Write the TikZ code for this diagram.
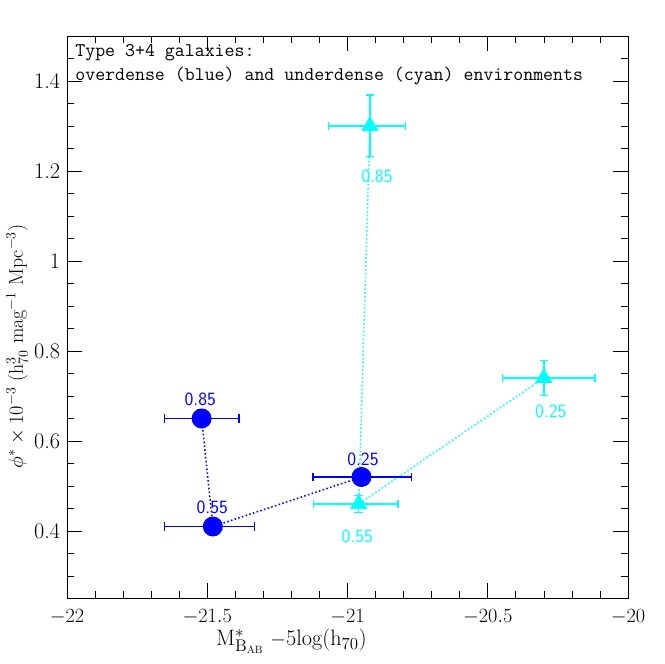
\documentclass[tikz,border=0pt]{standalone}
\usetikzlibrary{arrows.meta,shapes.geometric,backgrounds}
\definecolor{cy}{RGB}{0,255,255}
\definecolor{bl}{RGB}{0,0,255}
\begin{document}
\begin{tikzpicture}
\useasboundingbox (0,0) rectangle (19.92,19.92);
\tikzset{
 ticklab/.style={font=\fontsize{19}{22}\selectfont},
 dlab/.style={font=\fontsize{16}{19}\selectfont\sffamily},
 circ/.style={circle,fill=bl,inner sep=0pt,minimum size=0.6cm},
 tri/.style={regular polygon,regular polygon sides=3,fill=cy,inner sep=0pt,minimum size=0.6cm},
 ebar/.style={line width=1.2pt,{Bar[width=0.26cm]}-{Bar[width=0.26cm]}},
 conn/.style={line width=1.3pt,dotted}
}
\begin{scope}[shift={(2.01,-1.41)},x=8.415cm,y=13.5cm]
 \draw[line width=0.6pt] (0,0.25) rectangle (2,1.5);
 \foreach \i in {1,...,19} {
  \draw[line width=0.6pt] (\i/10,0.25) -- ++(0,0.21cm);
  \draw[line width=0.6pt] (\i/10,1.5) -- ++(0,-0.21cm);}
 \foreach \i in {0.5,1,1.5} {
  \draw[line width=0.6pt] (\i,0.25) -- ++(0,0.45cm);
  \draw[line width=0.6pt] (\i,1.5) -- ++(0,-0.45cm);}
 \foreach \j in {0.3,0.35,...,1.46} {
  \draw[line width=0.6pt] (0,\j) -- ++(0.21cm,0);
  \draw[line width=0.6pt] (2,\j) -- ++(-0.21cm,0);}
 \foreach \j in {0.4,0.6,0.8,1.0,1.2,1.4} {
  \draw[line width=0.6pt] (0,\j) -- ++(0.45cm,0);
  \draw[line width=0.6pt] (2,\j) -- ++(-0.45cm,0);}
 \node[ticklab,below] (xl1) at (0,0.235) {$-22$};
 \node[ticklab,below] (xl2) at (0.5,0.235) {$-21.5$};
 \node[ticklab,below] (xl3) at (1,0.235) {$-21$};
 \node[ticklab,below] (xl4) at (1.5,0.235) {$-20.5$};
 \node[ticklab,below] (xl5) at (2,0.235) {$-20$};
 \node[ticklab,left] (yl1) at (-0.01,0.4) {0.4};
 \node[ticklab,left] (yl2) at (-0.01,0.6) {0.6};
 \node[ticklab,left] (yl3) at (-0.01,0.8) {0.8};
 \node[ticklab,left] (yl4) at (-0.01,1.0) {1};
 \node[ticklab,left] (yl5) at (-0.01,1.2) {1.2};
 \node[ticklab,left] (yl6) at (-0.01,1.4) {1.4};
 \node[ticklab] (xt) at (0.8,0.155) {M$^*_{\mathrm{B}_{\scriptscriptstyle\mathrm{AB}}}$ $-$5log(h$_{70}$)};
 \node[font=\fontsize{17}{20}\selectfont,rotate=90] (yt) at (-0.178,0.81) {$\phi^*\times10^{-3}$ (h$^3_{70}$ mag$^{-1}$ Mpc$^{-3}$)};
 \node[font=\fontsize{16.5}{20}\selectfont\ttfamily,align=left,anchor=north west] (leg) at (0.015,1.49) {Type 3+4 galaxies:\\overdense (blue) and underdense (cyan) environments};
 \coordinate (b1) at (0.48,0.65);
 \coordinate (b2) at (0.52,0.41);
 \coordinate (b3) at (1.05,0.52);
 \coordinate (c1) at (1.08,1.30);
 \coordinate (c2) at (1.04,0.46);
 \coordinate (c3) at (1.70,0.74);
 \draw[conn,bl] (b1) -- (b2) -- (b3);
 \draw[conn,cy] (c1) -- (c2) -- (c3);
 \draw[ebar,bl] (0.345,0.65) -- (0.615,0.65);
 \draw[ebar,bl] (0.48,0.63) -- (0.48,0.67);
 \draw[ebar,bl] (0.345,0.41) -- (0.67,0.41);
 \draw[ebar,bl] (0.52,0.40) -- (0.52,0.42);
 \draw[ebar,bl] (0.875,0.52) -- (1.23,0.52);
 \draw[ebar,bl] (1.05,0.50) -- (1.05,0.54);
 \draw[ebar,cy] (0.93,1.30) -- (1.21,1.30);
 \draw[ebar,cy] (1.08,1.23) -- (1.08,1.37);
 \draw[ebar,cy] (0.877,0.46) -- (1.183,0.46);
 \draw[ebar,cy] (1.04,0.44) -- (1.04,0.48);
 \draw[ebar,cy] (1.55,0.74) -- (1.885,0.74);
 \draw[ebar,cy] (1.70,0.70) -- (1.70,0.78);
 \node[circ] (B1) at (b1) {};
 \node[circ] (B2) at (b2) {};
 \node[circ] (B3) at (b3) {};
 \node[tri] (C1) at (c1) {};
 \node[tri] (C2) at (c2) {};
 \node[tri] (C3) at (c3) {};
 \node[dlab,bl] (lb1) at (0.475,0.692) {0.85};
 \node[dlab,bl] (lb2) at (0.518,0.452) {0.55};
 \node[dlab,bl] (lb3) at (1.055,0.56) {0.25};
 \node[dlab,cy] (lc1) at (1.105,1.188) {0.85};
 \node[dlab,cy] (lc2) at (1.035,0.387) {0.55};
 \node[dlab,cy] (lc3) at (1.725,0.665) {0.25};
\end{scope}
\end{tikzpicture}
\end{document}
